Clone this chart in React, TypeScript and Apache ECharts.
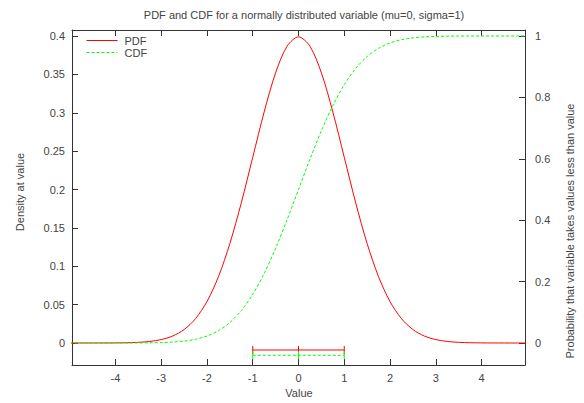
import React, { useEffect, useRef } from "react";
import * as echarts from "echarts";

const xValues = [
  -5, -4.75, -4.5, -4.25, -4, -3.75, -3.5, -3.25, -3, -2.75, -2.5, -2.25, -2, -1.75, -1.5, -1.25, -1, -0.75, -0.5, -0.25,
  0, 0.25, 0.5, 0.75, 1, 1.25, 1.5, 1.75, 2, 2.25, 2.5, 2.75, 3, 3.25, 3.5, 3.75, 4, 4.25, 4.5, 4.75, 5,
];
const pdfValues = [
  0, 0, 0.00002, 0.00005, 0.00013, 0.00035, 0.00087, 0.00203, 0.00443, 0.00909, 0.01753, 0.03174, 0.05399, 0.08628,
  0.12952, 0.18265, 0.24197, 0.30114, 0.35207, 0.38667, 0.39894, 0.38667, 0.35207, 0.30114, 0.24197, 0.18265,
  0.12952, 0.08628, 0.05399, 0.03174, 0.01753, 0.00909, 0.00443, 0.00203, 0.00087, 0.00035, 0.00013, 0.00005,
  0.00002, 0, 0,
];
const cdfValues = [
  0, 0, 0, 0.00001, 0.00003, 0.00009, 0.00023, 0.00058, 0.00135, 0.00298, 0.00621, 0.01222, 0.02275, 0.04006,
  0.06681, 0.10565, 0.15866, 0.22663, 0.30854, 0.40129, 0.5, 0.59871, 0.69146, 0.77337, 0.84134, 0.89435, 0.93319,
  0.95994, 0.97725, 0.98778, 0.99379, 0.99702, 0.99865, 0.99942, 0.99977, 0.99991, 0.99997, 1, 1, 1, 1,
];
// [low, mid, high, y (density axis)]
const pdfErrorBar = [[-1, 0, 1, -0.0091]];
const cdfErrorBar = [[-1, 0, 1, -0.016]];

const xTicks = [-4, -3, -2, -1, 0, 1, 2, 3, 4];
const yLeftTicks = [0, 0.05, 0.1, 0.15, 0.2, 0.25, 0.3, 0.35, 0.4];
const yRightTicks = [0, 0.2, 0.4, 0.6, 0.8, 1];

const FONT = "'Liberation Sans', Arial, sans-serif";
const TXT = "#444";

export default function App() {
  const ref = useRef<HTMLDivElement>(null);
  useEffect(() => {
    if (!ref.current) return;
    const chart = echarts.init(ref.current, null, { renderer: "svg" });
    const axisLine = { show: true, onZero: false, lineStyle: { color: "#333", width: 1 } };
    const label = { color: TXT, fontSize: 11, fontFamily: FONT };
    const errRender = (color: string, dash: number[] | null) => (params: any, api: any) => {
      const lo = api.coord([api.value(0), api.value(3)]);
      const mid = api.coord([api.value(1), api.value(3)]);
      const hi = api.coord([api.value(2), api.value(3)]);
      const style = { stroke: color, lineWidth: 1, lineDash: dash || undefined, fill: null };
      const cap = (p: number[]) => ({
        type: "line",
        shape: { x1: p[0], y1: p[1] - 4, x2: p[0], y2: p[1] + 4 },
        style: { stroke: color, lineWidth: 1 },
      });
      return {
        type: "group",
        children: [
          { type: "line", shape: { x1: lo[0], y1: lo[1], x2: hi[0], y2: hi[1] }, style },
          cap(lo),
          cap(mid),
          cap(hi),
        ],
      };
    };
    chart.setOption({
      animation: false,
      backgroundColor: "#fff",
      title: {
        text: "PDF and CDF for a normally distributed variable (mu=0, sigma=1)",
        left: 299,
        textAlign: "center",
        top: 4,
        textStyle: { fontSize: 11, fontWeight: "normal", color: TXT, fontFamily: FONT },
      },
      legend: {
        data: ["PDF", "CDF"],
        orient: "vertical",
        left: 86,
        top: 35,
        padding: 0,
        itemWidth: 31,
        itemHeight: 11,
        itemGap: 1,
        itemStyle: { opacity: 0 },
        lineStyle: { width: 1 },
        textStyle: { fontSize: 11, color: TXT, fontFamily: FONT, padding: [0, 0, 0, 2] },
      },
      grid: { left: 72, right: 59, top: 30, bottom: 38, show: false },
      xAxis: [
        {
          type: "value",
          position: "bottom",
          min: -4.95,
          max: 4.95,
          axisLine,
          axisTick: { show: true, inside: true, length: 6, customValues: xTicks, lineStyle: { color: "#333" } },
          axisLabel: { ...label, customValues: xTicks, margin: 7 },
          splitLine: { show: false },
        },
        {
          type: "value",
          position: "top",
          min: -4.95,
          max: 4.95,
          axisLine,
          axisTick: { show: true, inside: true, length: 6, customValues: xTicks, lineStyle: { color: "#333" } },
          axisLabel: { show: false },
          splitLine: { show: false },
        },
      ],
      yAxis: [
        {
          type: "value",
          position: "left",
          min: -0.02866,
          max: 0.40782,
          axisLine,
          axisTick: { show: true, inside: true, length: 6, customValues: yLeftTicks, lineStyle: { color: "#333" } },
          axisLabel: { ...label, customValues: yLeftTicks, margin: 7 },
          splitLine: { show: false },
        },
        {
          type: "value",
          position: "right",
          min: -0.0717,
          max: 1.0195,
          axisLine,
          axisTick: { show: true, inside: true, length: 6, customValues: yRightTicks, lineStyle: { color: "#333" } },
          axisLabel: { ...label, customValues: yRightTicks, margin: 10 },
          splitLine: { show: false },
        },
      ],
      graphic: [
        {
          type: "text",
          x: 20,
          y: 192,
          rotation: Math.PI / 2,
          style: { text: "Density at value", fontSize: 11, fill: TXT, fontFamily: FONT, align: "center", verticalAlign: "middle" },
        },
        {
          type: "text",
          x: 570,
          y: 231,
          rotation: Math.PI / 2,
          style: {
            text: "Probability that variable takes values less than value",
            fontSize: 11,
            fill: TXT,
            fontFamily: FONT,
            align: "center",
            verticalAlign: "middle",
          },
        },
        {
          type: "text",
          x: 299,
          y: 393,
          style: { text: "Value", fontSize: 11, fill: TXT, fontFamily: FONT, align: "center", verticalAlign: "middle" },
        },
      ],
      series: [
        {
          name: "PDF",
          type: "line",
          xAxisIndex: 0,
          yAxisIndex: 0,
          data: xValues.map((x, i) => [x, pdfValues[i]]),
          showSymbol: false,
          symbol: "none",
          smooth: 0.3,
          lineStyle: { color: "#ff0000", width: 1 },
          itemStyle: { color: "#ff0000" },
        },
        {
          name: "CDF",
          type: "line",
          xAxisIndex: 0,
          yAxisIndex: 1,
          data: xValues.map((x, i) => [x, cdfValues[i]]),
          showSymbol: false,
          symbol: "none",
          smooth: 0.3,
          lineStyle: { color: "#00ff00", width: 1, type: [3, 2] },
          itemStyle: { color: "#00ff00" },
        },
        {
          type: "custom",
          xAxisIndex: 0,
          yAxisIndex: 0,
          data: pdfErrorBar,
          encode: { x: [0, 1, 2], y: 3 },
          renderItem: errRender("#ff0000", null),
          clip: false,
        },
        {
          type: "custom",
          xAxisIndex: 0,
          yAxisIndex: 0,
          data: cdfErrorBar,
          encode: { x: [0, 1, 2], y: 3 },
          renderItem: errRender("#00ff00", [3, 2]),
          clip: false,
        },
      ],
    });
    return () => chart.dispose();
  }, []);
  return <div ref={ref} style={{ width: 584, height: 403, position: "absolute", left: 0, top: 0 }} />;
}
